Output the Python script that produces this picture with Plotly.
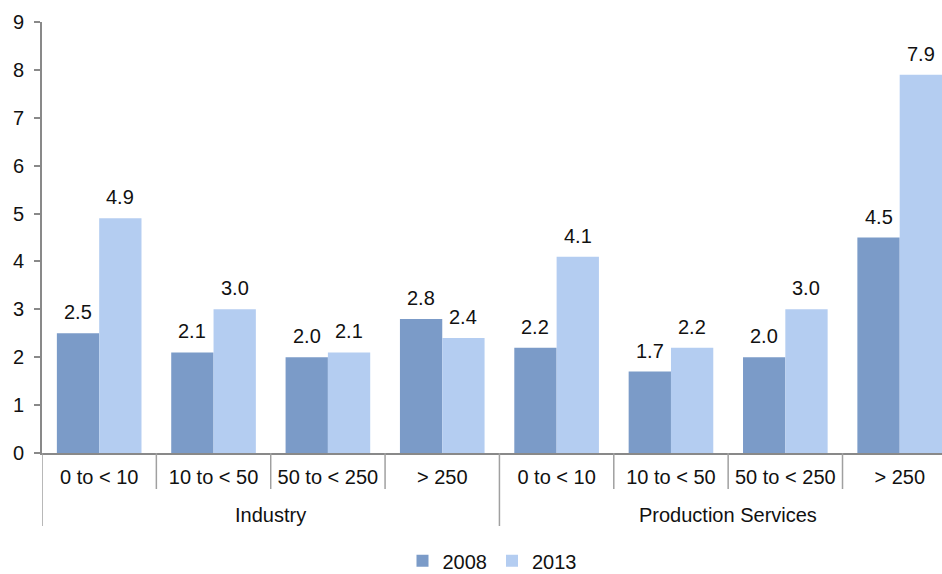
import plotly.graph_objects as go

# Enterprise size classes within each sector
size_classes = ["0 to < 10", "10 to < 50", "50 to < 250", "> 250",
                "0 to < 10", "10 to < 50", "50 to < 250", "> 250"]
sectors = ["Industry", "Production Services"]
classes_per_sector = 4

values_2008 = [2.5, 2.1, 2.0, 2.8, 2.2, 1.7, 2.0, 4.5]
values_2013 = [4.9, 3.0, 2.1, 2.4, 4.1, 2.2, 3.0, 7.9]

color_2008 = "#7b9bc8"
color_2013 = "#b4cdf1"
axis_color = "#898989"
font_family = "Arial, Liberation Sans, sans-serif"
font_size = 20
bar_w = 0.37

positions = list(range(len(size_classes)))

fig = go.Figure()
fig.add_trace(go.Bar(
    x=positions, y=values_2008, name="2008",
    marker=dict(color=color_2008, line=dict(width=0)),
    width=bar_w, offset=-bar_w,
))
fig.add_trace(go.Bar(
    x=positions, y=values_2013, name="2013",
    marker=dict(color=color_2013, line=dict(width=0)),
    width=bar_w, offset=0,
))

annotations = []
# value labels above each bar
for series, shift in ((values_2008, -bar_w / 2), (values_2013, bar_w / 2)):
    for pos, val in zip(positions, series):
        annotations.append(dict(
            x=pos + shift, y=val, xref="x", yref="y",
            text=f"{val:.1f}", showarrow=False,
            yshift=21, yanchor="middle", xanchor="center",
            font=dict(size=font_size, color="#111111", family=font_family),
        ))

# sector labels on the second row of the category axis
for k, name in enumerate(sectors):
    centre = k * classes_per_sector + (classes_per_sector - 1) / 2
    annotations.append(dict(
        x=centre, y=0, xref="x", yref="paper",
        text=name, showarrow=False, yshift=-62, yanchor="middle",
        font=dict(size=font_size, color="#111111", family=font_family),
    ))

shapes = []
# short dividers between size classes, longer ones between sectors
for pos in positions[:-1]:
    if (pos + 1) % classes_per_sector == 0:
        depth = -73
    else:
        depth = -36
    shapes.append(dict(
        type="line", xref="x", yref="paper", ysizemode="pixel", yanchor=0,
        x0=pos + 0.5, x1=pos + 0.5, y0=0, y1=depth,
        line=dict(color="#a0a0a0", width=1.5),
    ))
# left edge divider continuing the value axis
shapes.append(dict(
    type="line", xref="x", yref="paper", ysizemode="pixel", yanchor=0,
    x0=-0.5, x1=-0.5, y0=0, y1=-73,
    line=dict(color="#a0a0a0", width=1.5),
))

fig.update_layout(
    width=942, height=574,
    margin=dict(l=42, r=0, t=22, b=121, autoexpand=False),
    paper_bgcolor="white", plot_bgcolor="white",
    font=dict(family=font_family, size=font_size, color="#111111"),
    barmode="overlay",
    showlegend=True,
    legend=dict(
        orientation="h", x=0.5, xanchor="center", y=-0.25, yanchor="middle",
        font=dict(size=font_size, family=font_family, color="#111111"),
        itemwidth=30, traceorder="normal",
    ),
    annotations=annotations,
    shapes=shapes,
)

fig.update_xaxes(
    range=[-0.5, 7.37],
    tickmode="array", tickvals=positions, ticktext=size_classes,
    ticks="", showgrid=False, zeroline=False,
    showline=True, linecolor=axis_color, linewidth=2,
    ticklabelstandoff=5,
    tickfont=dict(size=font_size, family=font_family, color="#111111"),
)
fig.update_yaxes(
    range=[0, 9], dtick=1, tick0=0,
    ticks="outside", ticklen=6, tickcolor=axis_color, tickwidth=1.5,
    showgrid=False, zeroline=False,
    showline=True, linecolor=axis_color, linewidth=2,
    tickfont=dict(size=font_size, family=font_family, color="#111111"),
    ticklabelstandoff=6,
)

fig.write_html("out.html")
